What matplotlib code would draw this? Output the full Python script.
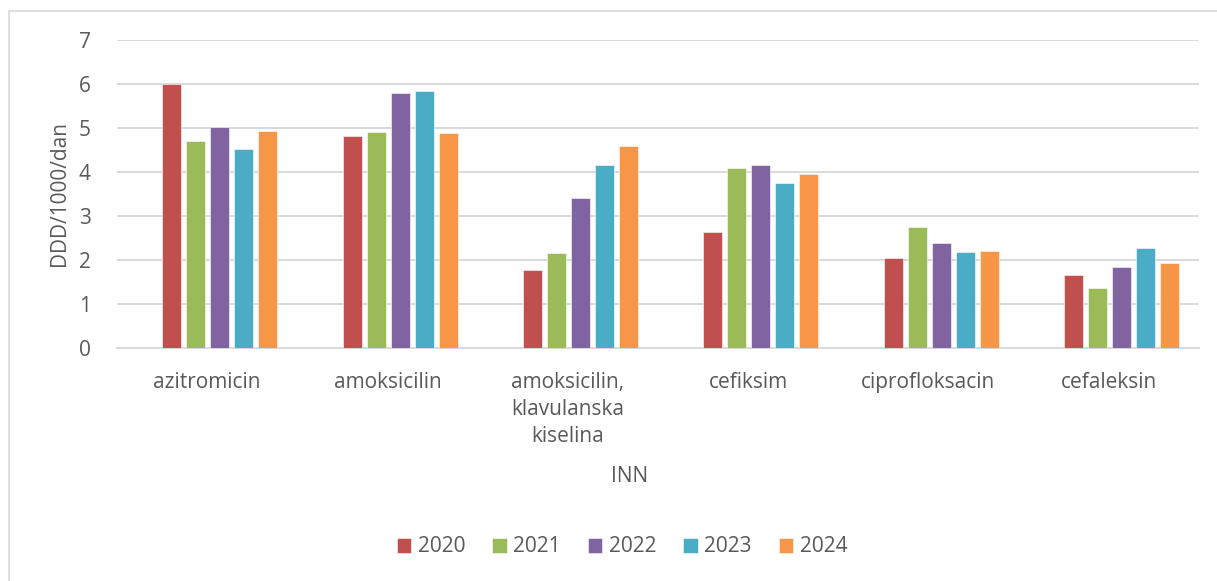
import matplotlib

matplotlib.use("Agg")
import matplotlib.pyplot as plt
import numpy as np
from matplotlib.patches import Rectangle

plt.rcParams["font.family"] = ["Open Sans", "DejaVu Sans"]

categories = ["azitromicin", "amoksicilin", "amoksicilin,\nklavulanska\nkiselina",
              "cefiksim", "ciprofloksacin", "cefaleksin"]
years = ["2020", "2021", "2022", "2023", "2024"]
v2020 = [6.01, 4.82, 1.78, 2.64, 2.05, 1.66]
v2021 = [4.71, 4.91, 2.16, 4.08, 2.74, 1.37]
v2022 = [5.02, 5.80, 3.42, 4.16, 2.39, 1.84]
v2023 = [4.52, 5.83, 4.16, 3.75, 2.18, 2.27]
v2024 = [4.93, 4.89, 4.60, 3.96, 2.21, 1.93]
series = [v2020, v2021, v2022, v2023, v2024]
colors = ["#C0504D", "#9BBB59", "#8064A2", "#4BACC6", "#F79646"]

TEXT = "#595959"
GRID = "#D9D9D9"
FS = 15

fig = plt.figure(figsize=(12.17, 5.81), dpi=100)
ax = fig.add_axes([117 / 1217, 1 - 348 / 581, (1199 - 117) / 1217, (348 - 40) / 581])

x = np.arange(len(categories))
step = 0.133
width = 0.105
shift = 0.07
for k, (vals, col, yr) in enumerate(zip(series, colors, years)):
    ax.bar(x + shift + (k - 2) * step, vals, width=width, color=col, label=yr,
           edgecolor="white", linewidth=0.4, zorder=3)

ax.set_xlim(-0.5, len(categories) - 0.5)
ax.set_ylim(0, 7)
ax.set_yticks(range(0, 8))
ax.yaxis.grid(True, color=GRID, linewidth=1.4, zorder=0)
ax.set_axisbelow(True)
for side in ["top", "right", "left"]:
    ax.spines[side].set_visible(False)
ax.spines["bottom"].set_color(GRID)
ax.spines["bottom"].set_linewidth(1.4)
ax.tick_params(axis="both", length=0, colors=TEXT, labelsize=FS)
ax.tick_params(axis="y", pad=19)
ax.tick_params(axis="x", pad=17)
ax.set_xticks(x)
ax.set_xticklabels(categories, linespacing=1.38, va="top")
ax.set_ylabel("DDD/1000/dan", color=TEXT, fontsize=FS, labelpad=6)

fig.text(630 / 1217, 1 - 477 / 581, "INN", color=TEXT, fontsize=FS, ha="center", va="center")

handles, labels = ax.get_legend_handles_labels()
fig.legend(handles, labels, loc="center", bbox_to_anchor=(622 / 1217, 1 - 547 / 581), ncol=5,
           frameon=False, fontsize=FS, labelcolor=TEXT, handlelength=0.7, handleheight=0.7,
           handletextpad=0.3, columnspacing=1.3)

# light chart border (left and top only, as in the crop)
fig.add_artist(Rectangle((8.5 / 1217, -0.1), 1.2, 1.1 - 10.5 / 581, transform=fig.transFigure,
                         fill=False, edgecolor=GRID, linewidth=1.2))

fig.savefig("out.png", dpi=100, facecolor="white")
